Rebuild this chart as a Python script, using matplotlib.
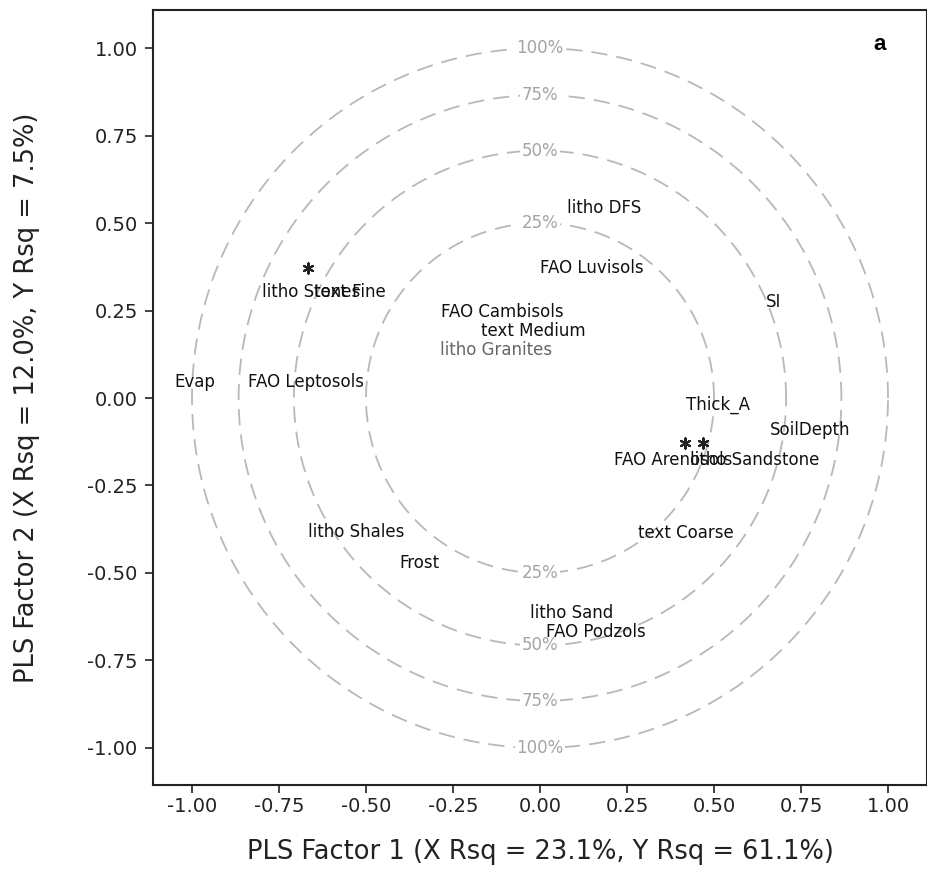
import numpy as np
import matplotlib
matplotlib.use("Agg")
import matplotlib.pyplot as plt

# Correlation loadings (PLS factor 1, PLS factor 2) for each predictor
labels = ["litho DFS", "FAO Luvisols", "SI", "litho Stones", "text Fine",
          "FAO Cambisols", "text Medium", "litho Granites", "Evap",
          "FAO Leptosols", "Thick_A", "SoilDepth", "FAO Arenosols",
          "litho Sandstone", "text Coarse", "litho Shales", "Frost",
          "litho Sand", "FAO Podzols"]
factor1 = [0.184, 0.149, 0.670, -0.658, -0.546,
           -0.109, -0.020, -0.126, -0.991,
           -0.672, 0.511, 0.776, 0.382,
           0.618, 0.420, -0.529, -0.345,
           0.092, 0.161]
factor2 = [0.543, 0.371, 0.274, 0.303, 0.303,
           0.246, 0.191, 0.137, 0.046,
           0.046, -0.020, -0.091, -0.177,
           -0.177, -0.386, -0.383, -0.471,
           -0.615, -0.668]
label_colors = ["#111111"] * len(labels)
label_colors[labels.index("litho Granites")] = "#666666"

# Response loadings shown as star markers
resp_f1 = [-0.667, 0.417, 0.468]
resp_f2 = [0.371, -0.129, -0.129]

# Explained-variance circles
circle_pcts = [25, 50, 75, 100]

ticks = [-1.00, -0.75, -0.50, -0.25, 0.00, 0.25, 0.50, 0.75, 1.00]
tick_labels = [f"{t:.2f}" for t in ticks]

fig = plt.figure(figsize=(9.28, 8.83), dpi=100)
ax = fig.add_axes([153 / 928, 1 - 785 / 883, 774 / 928, 775 / 883])
ax.set_xlim(-1.112, 1.112)
ax.set_ylim(-1.106, 1.109)

theta = np.linspace(0, 2 * np.pi, 721)
for p in circle_pcts:
    r = np.sqrt(p / 100)
    ax.plot(r * np.cos(theta), r * np.sin(theta), color="#b8b8b8",
            lw=1.3, ls=(0, (9, 5)), zorder=1)
    for sgn in (1, -1):
        ax.text(0, sgn * r, f"{p}%", ha="center", va="center", fontsize=12,
                color="#a4a4a4", family="DejaVu Sans", zorder=2,
                bbox=dict(facecolor="white", edgecolor="none", pad=1.0))

for lab, x, y, c in zip(labels, factor1, factor2, label_colors):
    ax.text(x, y, lab, ha="center", va="center", fontsize=12, color=c,
            family="DejaVu Sans", zorder=3)

ax.scatter(resp_f1, resp_f2, marker=(6, 2, 0), s=55, color="#222222",
           linewidths=1.5, zorder=4)

ax.text((880 - 153) / 774, (785 - 45) / 775, "a", transform=ax.transAxes,
        ha="center", va="center", fontsize=16, fontweight="bold",
        family="Liberation Sans")

ax.set_xticks(ticks)
ax.set_xticklabels(tick_labels)
ax.set_yticks(ticks)
ax.set_yticklabels(tick_labels)
ax.tick_params(direction="out", length=6, width=1.2, labelsize=14,
               colors="#222222")
ax.tick_params(axis="x", pad=3)
ax.tick_params(axis="y", pad=5)
for lbl in ax.get_xticklabels() + ax.get_yticklabels():
    lbl.set_family("DejaVu Sans")
for s in ax.spines.values():
    s.set_linewidth(1.5)
    s.set_color("#222222")

ax.set_xlabel("PLS Factor 1 (X Rsq = 23.1%, Y Rsq = 61.1%)", fontsize=18.5,
              family="DejaVu Sans", color="#222222", labelpad=16)
ax.set_ylabel("PLS Factor 2 (X Rsq = 12.0%, Y Rsq = 7.5%)", fontsize=18.5,
              family="DejaVu Sans", color="#222222", labelpad=34)

fig.savefig("out.png", dpi=100, facecolor="white")
